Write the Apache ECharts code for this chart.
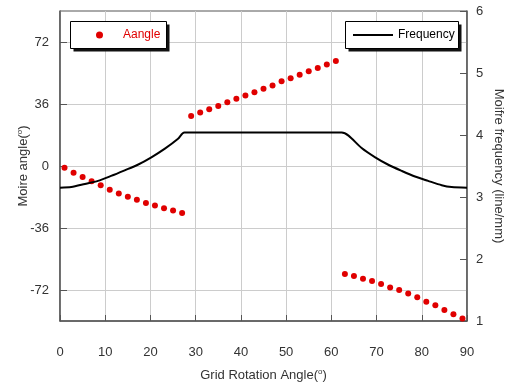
<!DOCTYPE html>
<html>
<head>
<meta charset="utf-8">
<script src="https://cdn.jsdelivr.net/npm/echarts@6/dist/echarts.min.js"></script>
<style>
  html, body { margin: 0; padding: 0; background: #fff; }
  #main { width: 509px; height: 384px; }
</style>
</head>
<body>
<div id="main"></div>
<script>
// Moire angle (left axis, degrees) sampled every 2 deg of rotation
const angleX = [1, 3, 5, 7, 9, 11, 13, 15, 17, 19, 21, 23, 25, 27,
  29, 31, 33, 35, 37, 39, 41, 43, 45, 47, 49, 51, 53, 55, 57, 59, 61,
  63, 65, 67, 69, 71, 73, 75, 77, 79, 81, 83, 85, 87, 89];
const angleY = [-1.0, -3.9, -6.4, -8.9, -11.2, -13.8, -16.0, -17.9, -19.6, -21.5, -23.0, -24.6, -25.9, -27.3,
  29.0, 31.0, 32.9, 34.8, 37.0, 39.1, 41.0, 42.8, 44.9, 46.8, 49.2, 50.9, 53.0, 55.0, 56.9, 59.0, 61.0,
  -62.7, -63.9, -65.4, -66.8, -68.5, -70.5, -72.0, -74.1, -76.2, -78.8, -80.9, -83.6, -86.1, -88.6];

// Moire frequency (right axis, line/mm)
const freqX = [0, 2.5, 5.5, 8.4, 11.3, 14.3, 17.2, 20.2, 23.2, 26.1, 27.5,
  45, 62.3,
  63.8, 66.7, 69.7, 72.6, 75.6, 78.5, 81.4, 84.4, 86.6, 90];
const freqY = [3.15, 3.16, 3.21, 3.26, 3.34, 3.43, 3.52, 3.64, 3.78, 3.94, 4.04,
  4.04, 4.04,
  3.99, 3.79, 3.64, 3.52, 3.42, 3.33, 3.26, 3.19, 3.16, 3.15];

const leftLabels = [-72, -36, 0, 36, 72];
const rightLabels = [1, 2, 3, 4, 5, 6];

const font = "'Liberation Sans', Arial, sans-serif";
const red = "#e00000";

const chart = echarts.init(document.getElementById("main"));

// legend frame with a hard drop shadow
function legendBox(x, y, w, h) {
  return [
    { type: "rect", z: 5, shape: { x: x + 3, y: y + 3, width: w, height: h }, style: { fill: "#111" } },
    { type: "rect", z: 6, shape: { x: x, y: y, width: w, height: h }, style: { fill: "#fff", stroke: "#000", lineWidth: 1 } }
  ];
}

const supRich = { sup: { fontSize: 8, verticalAlign: "top", padding: [0, 0, 7, 0], color: "#333" } };

const option = {
  animation: false,
  textStyle: { fontFamily: font },
  grid: {
    left: 60, right: 42, top: 11, bottom: 63,
    outerBoundsMode: "none",
    containLabel: false,
    show: true, borderColor: "#555", borderWidth: 1
  },
  graphic: [].concat(legendBox(70.5, 21.5, 96, 27), legendBox(345.5, 21.5, 113, 27)),
  legend: [
    {
      data: ["Aangle"],
      left: 96, top: 29, z: 10,
      padding: 0,
      icon: "circle",
      itemWidth: 7, itemHeight: 7,
      textStyle: { color: red, fontSize: 12, fontFamily: font, padding: [0, 0, 0, 15] }
    },
    {
      data: ["Frequency"],
      left: 353, top: 29, z: 10,
      padding: 0,
      icon: "rect",
      itemWidth: 40, itemHeight: 2,
      itemStyle: { color: "#000" },
      textStyle: { color: "#000", fontSize: 12, fontFamily: font }
    }
  ],
  xAxis: {
    type: "value",
    min: 0, max: 90, interval: 10,
    name: "Grid Rotation Angle({sup|o})",
    nameLocation: "middle",
    nameGap: 47,
    nameMoveOverlap: false,
    nameTextStyle: { color: "#333", fontSize: 13, fontFamily: font, rich: supRich },
    axisLine: { onZero: false, lineStyle: { color: "#555", width: 1.5 } },
    axisTick: { inside: true, length: 6, lineStyle: { color: "#555" } },
    axisLabel: { color: "#333", fontSize: 13, margin: 25 },
    splitLine: { lineStyle: { color: "#ccc", width: 1 } }
  },
  yAxis: [
    {
      type: "value",
      position: "left",
      min: -90, max: 90, interval: 18,
      name: "Moire angle({sup|o})",
      nameLocation: "middle",
      nameGap: 29,
      nameMoveOverlap: false,
      nameRotate: 90,
      nameTextStyle: { color: "#333", fontSize: 13, fontFamily: font, rich: supRich },
      axisLine: { show: true, onZero: false, lineStyle: { color: "#555", width: 1.5 } },
      axisTick: { show: true, inside: true, length: 7, customValues: leftLabels, lineStyle: { color: "#555" } },
      axisLabel: { color: "#333", fontSize: 13, margin: 11, customValues: leftLabels },
      splitLine: { lineStyle: { color: "#ccc", width: 1 } }
    },
    {
      type: "value",
      position: "right",
      min: 1, max: 6, interval: 1,
      name: "Moifre frequency (line/mm)",
      nameLocation: "middle",
      nameGap: 25,
      nameMoveOverlap: false,
      nameRotate: -90,
      nameTextStyle: { color: "#333", fontSize: 13, fontFamily: font },
      axisLine: { show: true, onZero: false, lineStyle: { color: "#555", width: 1.5 } },
      axisTick: { show: true, inside: true, length: 7, customValues: rightLabels, lineStyle: { color: "#555" } },
      axisLabel: { color: "#333", fontSize: 13, margin: 9, customValues: rightLabels },
      splitLine: { show: false }
    }
  ],
  series: [
    {
      name: "Aangle",
      type: "scatter",
      yAxisIndex: 0,
      symbol: "circle",
      symbolSize: 6,
      itemStyle: { color: red, opacity: 1 },
      data: angleX.map((x, i) => [x, angleY[i]])
    },
    {
      name: "Frequency",
      type: "line",
      yAxisIndex: 1,
      symbol: "none",
      smooth: 0.25,
      lineStyle: { color: "#000", width: 2 },
      itemStyle: { color: "#000" },
      data: freqX.map((x, i) => [x, freqY[i]])
    }
  ]
};

chart.setOption(option);
</script>
</body>
</html>
